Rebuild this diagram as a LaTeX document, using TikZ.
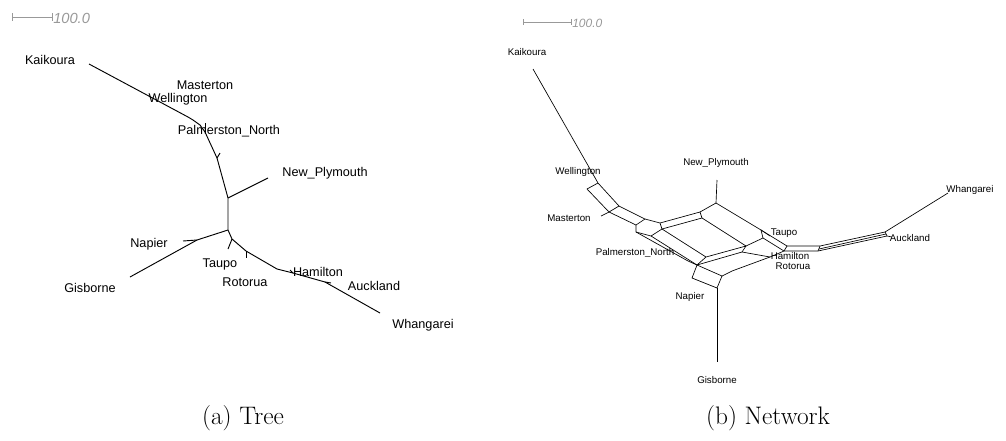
\documentclass[tikz,border=0pt]{standalone}
\usepackage{fontspec}
\setsansfont{Liberation Sans}
\usetikzlibrary{positioning}

\begin{document}
\begin{tikzpicture}[x=0.75pt, y=-0.75pt,
  taxon/.style={font=\sffamily\fontsize{9.5}{10}\selectfont, inner sep=0pt},
  nettaxon/.style={font=\sffamily\fontsize{7.3}{8}\selectfont, inner sep=0pt},
  branch/.style={line width=0.7pt, line join=round},
  netedge/.style={line width=0.5pt, line join=round},
  scalebar/.style={gray!80, line width=0.5pt},
  scalelabel/.style={gray!80, font=\sffamily\itshape, inner sep=0pt, anchor=west},
  subcap/.style={font=\fontsize{19}{22}\selectfont, inner sep=0pt}
]
  \useasboundingbox (0,0) rectangle (1006,440);

  % ---- tree ----
  \draw[scalebar] (12,13) -- (12,21) (12,17) -- (52,17) (52,13) -- (52,21);
  \node[scalelabel, font=\sffamily\itshape\fontsize{11}{12}\selectfont] (tscale) at (53,18) {100.0};

  \coordinate (tKai) at (89,64);
  \coordinate (tWel) at (188,117);
  \coordinate (tMas) at (193,120);
  \coordinate (tu1) at (200,125);
  \coordinate (tu2) at (205,132);
  \coordinate (tPal) at (205,123);
  \coordinate (tu3) at (217,158);
  \coordinate (tu3s) at (220,153);
  \coordinate (tu4) at (228,198);
  \coordinate (tNew) at (268,178);
  \coordinate (tu5) at (228,230);
  \coordinate (tu6) at (197,240);
  \coordinate (tNap) at (183,241);
  \coordinate (tGis) at (130,277);
  \coordinate (tu7) at (232,239);
  \coordinate (tTau) at (228,249);
  \coordinate (tu8) at (246,251);
  \coordinate (tRot) at (246,258);
  \coordinate (tu9) at (277,269);
  \coordinate (tu10) at (293,273);
  \coordinate (tHam) at (290,270);
  \coordinate (tu11) at (325,282);
  \coordinate (tAuc) at (331,283);
  \coordinate (tWha) at (380,313);

  \draw[branch] (tKai) -- (tWel) -- (tMas) -- (tu1) -- (tu2) -- (tu3) -- (tu4) -- (tu5);
  \draw[branch] (tu2) -- (tPal);
  \draw[branch] (tu3) -- (tu3s);
  \draw[branch] (tu4) -- (tNew);
  \draw[branch] (tu5) -- (tu6) -- (tGis);
  \draw[branch] (tu6) -- (tNap);
  \draw[branch] (tu5) -- (tu7) -- (tu8) -- (tu9) -- (tu10) -- (tu11) -- (tWha);
  \draw[branch] (tu7) -- (tTau);
  \draw[branch] (tu8) -- (tRot);
  \draw[branch] (tu10) -- (tHam);
  \draw[branch] (tu11) -- (tAuc);

  \node[taxon] (lKai) at (50,60) {Kaikoura};
  \node[taxon] (lMas) at (205,85) {Masterton};
  \node[taxon] (lWel) at (178,99) {Wellington};
  \node[taxon] (lPal) at (229,131) {Palmerston\_North};
  \node[taxon] (lNew) at (325,173) {New\_Plymouth};
  \node[taxon] (lNap) at (149,244) {Napier};
  \node[taxon] (lGis) at (90,288) {Gisborne};
  \node[taxon] (lTau) at (220,264) {Taupo};
  \node[taxon] (lRot) at (245,282) {Rotorua};
  \node[taxon] (lHam) at (318,272) {Hamilton};
  \node[taxon] (lAuc) at (374,286) {Auckland};
  \node[taxon] (lWha) at (423,325) {Whangarei};

  \node[subcap] (capa) at (243,418) {(a) Tree};

  % ---- network ----
  \draw[scalebar] (523,19) -- (523,25) (523,22) -- (571,22) (571,19) -- (571,25);
  \node[scalelabel, font=\sffamily\itshape\fontsize{9}{10}\selectfont] (nscale) at (572,23) {100.0};

  \coordinate (nKai) at (533,69);
  \coordinate (w0) at (598,183);
  \coordinate (w1) at (587,189);
  \coordinate (w2) at (619,206);
  \coordinate (w3) at (609,212);
  \coordinate (nMas) at (601,216);
  \coordinate (x0) at (645,219);
  \coordinate (x1) at (636,225);
  \coordinate (x2) at (636,232);
  \coordinate (x3) at (651,236);
  \coordinate (t0) at (660,223);
  \coordinate (t0b) at (662,229);
  \coordinate (t1) at (700,212);
  \coordinate (t1b) at (702,218);
  \coordinate (np) at (716,203);
  \coordinate (nNew) at (717,180);
  \coordinate (r0) at (761,230);
  \coordinate (r1) at (763,238);
  \coordinate (nTau) at (770,236);
  \coordinate (b0) at (706,257);
  \coordinate (b1) at (746,246);
  \coordinate (b0b) at (697,265);
  \coordinate (b1b) at (742,252);
  \coordinate (nPal) at (688,261);
  \coordinate (n1) at (692,278);
  \coordinate (n2) at (717,288);
  \coordinate (n3) at (722,276);
  \coordinate (n4) at (732,271);
  \coordinate (nRot) at (770,257);
  \coordinate (nGis) at (717,362);
  \coordinate (h0) at (787,246);
  \coordinate (h1) at (784,251);
  \coordinate (h2) at (820,246);
  \coordinate (h3) at (818,251);
  \coordinate (hm) at (819,249);
  \coordinate (a0) at (885,232);
  \coordinate (a1) at (887,236);
  \coordinate (am) at (886,234);
  \coordinate (nAuc) at (892,237);
  \coordinate (nWha) at (948,193);

  \draw[netedge] (nKai) -- (w0) -- (w1) -- (w3) -- (w2) -- (w0);
  \draw[netedge] (nMas) -- (w3);
  \draw[netedge] (w2) -- (x0) -- (x1) -- (w3);
  \draw[netedge] (x1) -- (x2) -- (x3) -- (t0b) -- (t0) -- (x0);
  \draw[netedge] (t0) -- (t1) -- (t1b) -- (t0b);
  \draw[netedge] (t1) -- (np) -- (nNew);
  \draw[netedge] (np) -- (r0) -- (r1) -- (b1) -- (t1b);
  \draw[netedge] (r0) -- (nTau);
  \draw[netedge] (t0b) -- (b0) -- (b1) -- (b1b) -- (b0b) -- (b0);
  \draw[netedge] (x2) -- (nPal) -- (b0b);
  \draw[netedge] (x3) -- (b0b);
  \draw[netedge] (b0b) -- (n1) -- (n2) -- (n3) -- (b0b);
  \draw[netedge] (n3) -- (n4) -- (nRot) -- (h1);
  \draw[netedge] (b1b) -- (nRot);
  \draw[netedge] (n2) -- (nGis);
  \draw[netedge] (r0) -- (h0) -- (h1) -- (r1);
  \draw[netedge] (h0) -- (h2) -- (a0);
  \draw[netedge] (h1) -- (h3) -- (a1);
  \draw[netedge] (h2) -- (h3);
  \draw[netedge] (hm) -- (am);
  \draw[netedge] (a0) -- (a1) -- (nAuc);
  \draw[netedge] (a0) -- (nWha);

  \node[nettaxon] (mKai) at (527,52) {Kaikoura};
  \node[nettaxon] (mWel) at (578,172) {Wellington};
  \node[nettaxon] (mNew) at (716,163) {New\_Plymouth};
  \node[nettaxon] (mWha) at (970,190) {Whangarei};
  \node[nettaxon] (mMas) at (569,218) {Masterton};
  \node[nettaxon] (mTau) at (784,233) {Taupo};
  \node[nettaxon] (mAuc) at (910,238) {Auckland};
  \node[nettaxon] (mPal) at (635,253) {Palmerston\_North};
  \node[nettaxon] (mHam) at (790,256) {Hamilton};
  \node[nettaxon] (mRot) at (793,266) {Rotorua};
  \node[nettaxon] (mNap) at (690,297) {Napier};
  \node[nettaxon] (mGis) at (717,380) {Gisborne};

  \node[subcap] (capb) at (768,418) {(b) Network};
\end{tikzpicture}
\end{document}
